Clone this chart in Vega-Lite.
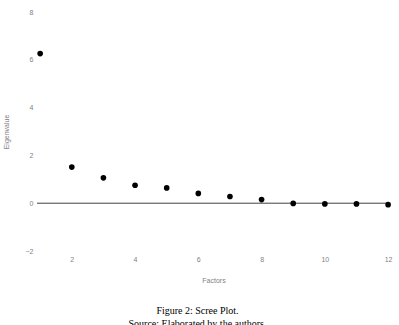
{
  "$schema": "https://vega.github.io/schema/vega-lite/v6.json",
  "autosize": "none",
  "width": 353,
  "height": 239,
  "padding": {"left": 37, "top": 12, "right": 9, "bottom": 74},
  "background": "white",
  "config": {"view": {"stroke": null}},
  "title": {
    "text": "Figure 2: Scree Plot.",
    "subtitle": "Source: Elaborated by the authors.",
    "orient": "bottom",
    "anchor": "middle",
    "font": "Liberation Serif",
    "fontSize": 10,
    "fontWeight": "normal",
    "color": "black",
    "subtitleFont": "Liberation Serif",
    "subtitleFontSize": 10,
    "subtitleColor": "black",
    "subtitlePadding": 3,
    "offset": 23,
    "dx": -16
  },
  "data": {
    "values": [
      {"factor": 1, "eigenvalue": 6.26},
      {"factor": 2, "eigenvalue": 1.51},
      {"factor": 3, "eigenvalue": 1.06},
      {"factor": 4, "eigenvalue": 0.75},
      {"factor": 5, "eigenvalue": 0.64},
      {"factor": 6, "eigenvalue": 0.41},
      {"factor": 7, "eigenvalue": 0.28},
      {"factor": 8, "eigenvalue": 0.15},
      {"factor": 9, "eigenvalue": -0.01},
      {"factor": 10, "eigenvalue": -0.03},
      {"factor": 11, "eigenvalue": -0.03},
      {"factor": 12, "eigenvalue": -0.06}
    ]
  },
  "layer": [
    {
      "mark": {"type": "rule", "color": "#404040", "strokeWidth": 1},
      "data": {"values": [{"y": 0}]},
      "encoding": {
        "y": {"field": "y", "type": "quantitative", "scale": {"domain": [-2, 8]}}
      }
    },
    {
      "mark": {"type": "point", "filled": true, "color": "black", "opacity": 1, "size": 32},
      "encoding": {
        "x": {
          "field": "factor", "type": "quantitative", "title": "Factors",
          "scale": {"domain": [0.9, 12.06], "nice": false, "zero": false},
          "axis": {"values": [2, 4, 6, 8, 10, 12], "grid": false, "domain": false, "ticks": false,
                   "labelFont": "Liberation Sans", "labelFontSize": 7, "labelColor": "#7f7f7f", "labelPadding": 4,
                   "titleFont": "Liberation Sans", "titleFontSize": 7, "titleColor": "#7f7f7f", "titleFontWeight": "normal", "titlePadding": 14}
        },
        "y": {
          "field": "eigenvalue", "type": "quantitative", "title": "Eigenvalue",
          "scale": {"domain": [-2, 8], "nice": false},
          "axis": {"values": [-2, 0, 2, 4, 6, 8], "grid": false, "domain": false, "ticks": false,
                   "labelFont": "Liberation Sans", "labelFontSize": 7, "labelColor": "#7f7f7f", "labelPadding": 4,
                   "titleFont": "Liberation Sans", "titleFontSize": 7, "titleColor": "#7f7f7f", "titleFontWeight": "normal", "titlePadding": 16}
        }
      }
    }
  ]
}
